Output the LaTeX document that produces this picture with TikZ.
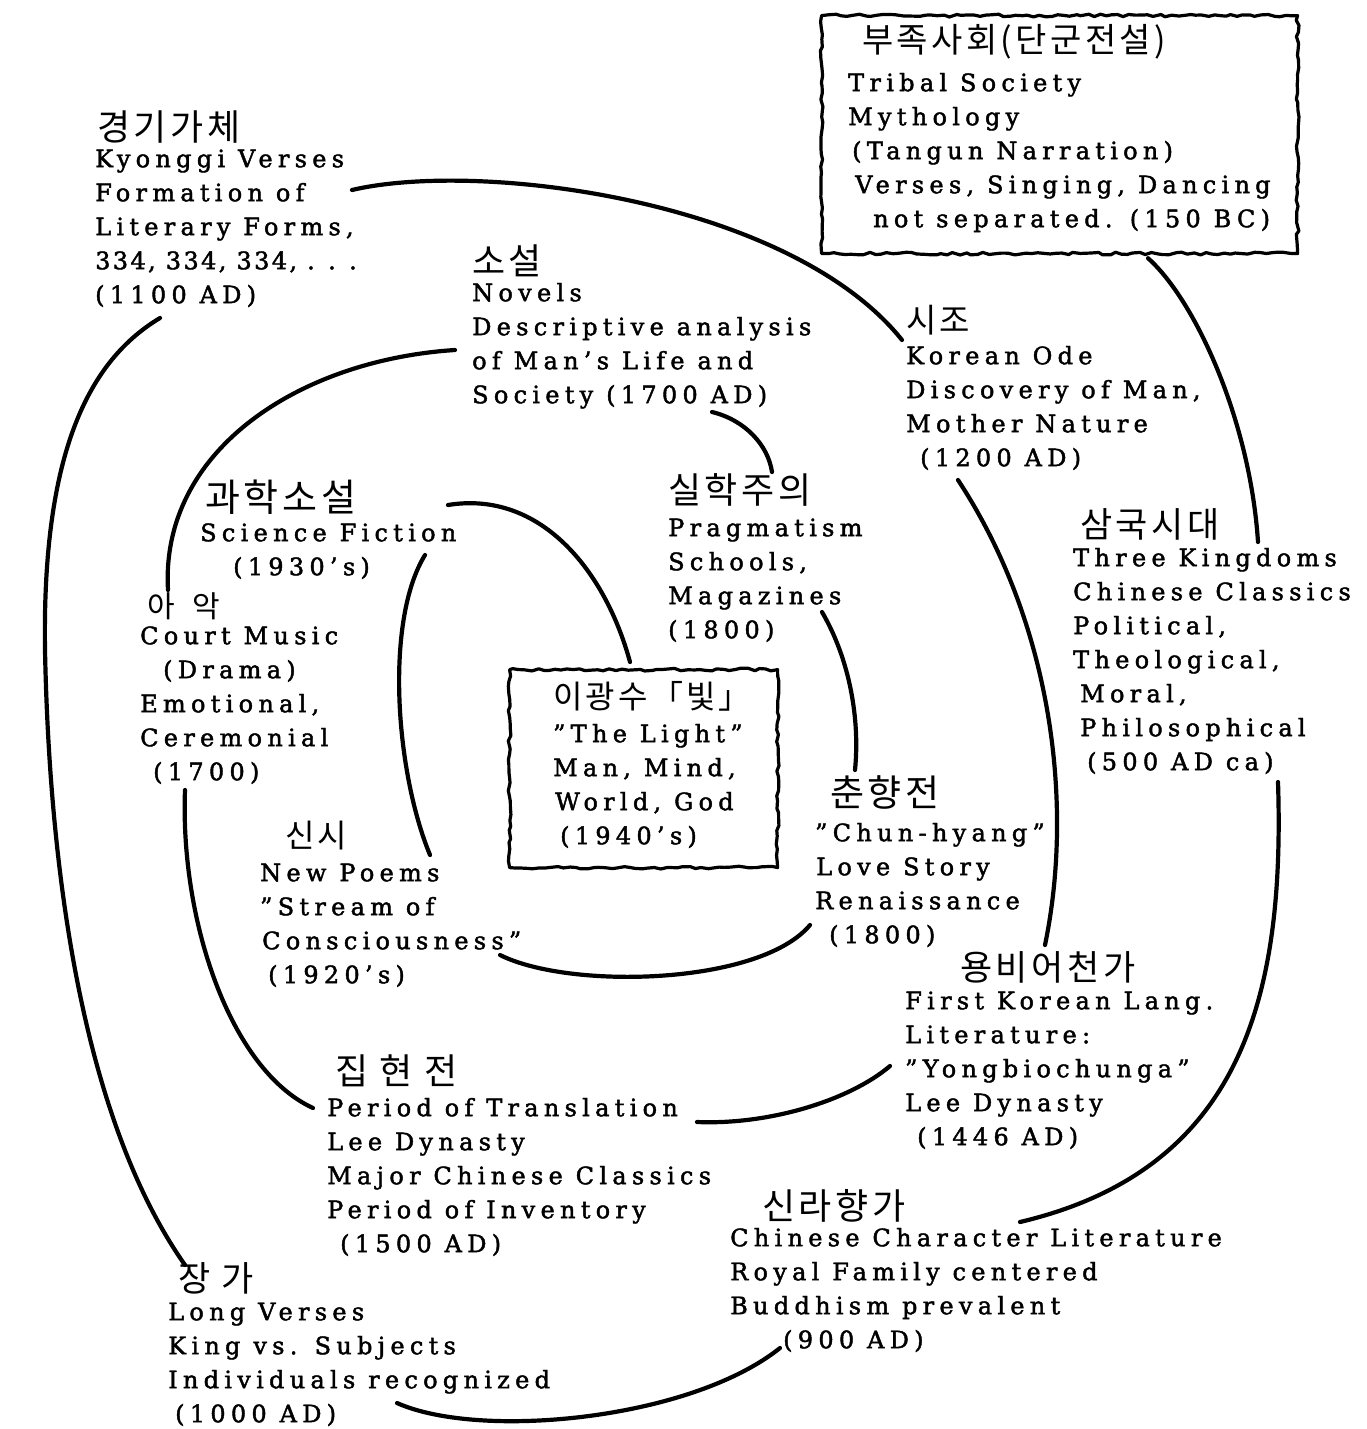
\documentclass[tikz,border=0pt]{standalone}
\usepackage{fontspec}
\setmainfont{DejaVu Serif}[LetterSpace=22, FakeBold=1.8]
\newfontfamily\kr{Noto Sans CJK KR}[LetterSpace=10]
\usetikzlibrary{decorations.pathmorphing}
\newcommand\fstrut{\rule{0pt}{25pt}}
\tikzset{
  txt/.style={anchor=north west, inner sep=0pt, align=left,
    font=\fontsize{24}{34}\selectfont},
  kor/.style={anchor=west, inner sep=0pt, font=\kr\fontsize{#1}{#1}\selectfont},
  link/.style={line width=4.2pt, line cap=round},
  roughbox/.style={draw, line width=3.2pt, line join=round, anchor=north west, inner sep=0pt,
    decorate, decoration={random steps, segment length=6pt, amplitude=1.4pt}}
}
\begin{document}
\begin{tikzpicture}[x=1pt,y=-1pt]
\fill[white] (0,0) rectangle (1367,1429);
\useasboundingbox (0,0) rectangle (1367,1429);

% boxes
\node[roughbox, minimum width=476pt, minimum height=238pt] (tribalbox) at (820,14) {};
\node[roughbox, minimum width=268pt, minimum height=198pt] (lightbox) at (508,668) {};

% Korean headings
\node[kor=34] (tribal-kr) at (862,42) {부족사회(단군전설)};
\node[kor=36] (kyonggi-kr) at (97,127) {경기가체};
\node[kor=36] (novels-kr) at (472,261) {소설};
\node[kor=33] (sijo-kr) at (906,320) {시조};
\node[kor=38] (scifi-kr) at (205,497) {과학소설};
\node[kor=36] (silhak-kr) at (668,490) {실학주의};
\node[kor=35] (kingdoms-kr) at (1080,524) {삼국시대};
\node[kor=30] (aak-kr) at (147,606) {아\hspace{8pt} 악};
\node[kor=32] (light-kr) at (553,696) {이광수「빛」};
\node[kor=37] (chun-kr) at (830,792) {춘향전};
\node[kor=32] (sinsi-kr) at (285,836) {신시};
\node[kor=35] (yongbi-kr) at (960,967) {용비어천가};
\node[kor=36] (jip-kr) at (335,1071) {집 현 전};
\node[kor=36] (silla-kr) at (762,1206) {신라향가};
\node[kor=35] (janga-kr) at (178,1278) {장 가};

% English texts
\node[txt] (tribal) at (848,66) {\fstrut Tribal Society\\Mythology\\\hspace*{4pt}(Tangun Narration)\\\hspace*{7pt}Verses, Singing, Dancing\\\hspace*{25pt}not separated. (150 BC)};
\node[txt] (kyonggi) at (95,142) {\fstrut Kyonggi Verses\\Formation of\\Literary Forms,\\{\addfontfeature{LetterSpace=10}334, 334, 334, . . .}\\(1100 AD)};
\node[txt] (novels) at (472,276) {\fstrut Novels\\Descriptive analysis\\of Man's Life and\\Society (1700 AD)};
\node[txt] (sijo) at (906,339) {\fstrut Korean Ode\\Discovery of Man,\\Mother Nature\\\hspace*{14pt}(1200 AD)};
\node[txt] (scifi) at (200,516) {\fstrut Science Fiction\\\hspace*{33pt}(1930's)};
\node[txt] (silhak) at (668,511) {\fstrut Pragmatism\\Schools,\\Magazines\\(1800)};
\node[txt] (kingdoms) at (1073,541) {\fstrut Three Kingdoms\\Chinese Classics\\Political,\\Theological,\\\hspace*{7pt}Moral,\\\hspace*{7pt}Philosophical\\\hspace*{14pt}(500 AD ca)};
\node[txt] (aak) at (140,619) {\fstrut Court Music\\\hspace*{23pt}(Drama)\\Emotional,\\Ceremonial\\\hspace*{13pt}(1700)};
\node[txt] (light) at (553,717) {\fstrut "The Light"\\Man, Mind,\\\hspace*{2pt}World, God\\\hspace*{7pt}(1940's)};
\node[txt] (chun) at (815,816) {\fstrut "Chun-hyang"\\\hspace*{1pt}Love Story\\Renaissance\\\hspace*{14pt}(1800)};
\node[txt] (sinsi) at (260,856) {\fstrut New Poems\\"Stream of\\\hspace*{2pt}Consciousness"\\\hspace*{8pt}(1920's)};
\node[txt] (yongbi) at (905,984) {\fstrut First Korean Lang.\\Literature:\\"Yongbiochunga"\\Lee Dynasty\\\hspace*{12pt}(1446 AD)};
\node[txt] (jip) at (327,1091) {\fstrut Period of Translation\\Lee Dynasty\\Major Chinese Classics\\Period of Inventory\\\hspace*{13pt}(1500 AD)};
\node[txt] (silla) at (730,1221) {\fstrut Chinese Character Literature\\Royal Family centered\\Buddhism prevalent\\\hspace*{53pt}(900 AD)};
\node[txt] (janga) at (168,1295) {\fstrut Long Verses\\King vs. Subjects\\Individuals recognized\\\hspace*{7pt}(1000 AD)};

% connectors (the spiral)
\draw[link] ([shift={(328,3)}]tribalbox.south west) .. controls (1195,300) and (1250,420) .. ([shift={(185,1)}]kingdoms.north west);
\draw[link] ([shift={(205,241)}]kingdoms.north west) .. controls (1285,1000) and (1240,1170) .. ([shift={(290,1)}]silla.north west);
\draw[link] ([shift={(50,127)}]silla.north west) .. controls (690,1420) and (480,1440) .. ([shift={(229,108)}]janga.north west);
\draw[link] ([shift={(17,-30)}]janga.north west) .. controls (90,1130) and (50,900) .. (45,650) .. controls (42,450) and (90,360) .. ([shift={(65,176)}]kyonggi.north west);
\draw[link] ([shift={(257,48)}]kyonggi.north west) .. controls (480,160) and (790,200) .. ([shift={(-4,1)}]sijo.north west);
\draw[link] ([shift={(52,141)}]sijo.north west) .. controls (1050,620) and (1075,800) .. ([shift={(140,-39)}]yongbi.north west);
\draw[link] ([shift={(-15,82)}]yongbi.north west) .. controls (850,1100) and (770,1125) .. ([shift={(370,31)}]jip.north west);
\draw[link] ([shift={(-14,17)}]jip.north west) .. controls (230,1070) and (180,920) .. ([shift={(45,171)}]aak.north west);
\draw[link] ([shift={(28,-29)}]aak.north west) .. controls (160,450) and (300,360) .. ([shift={(-17,74)}]novels.north west);
\draw[link] ([shift={(240,136)}]novels.north west) .. controls (745,420) and (768,445) .. ([shift={(104,-39)}]silhak.north west);
\draw[link] ([shift={(154,101)}]silhak.north west) .. controls (850,660) and (860,720) .. ([shift={(40,-46)}]chun.north west);
\draw[link] ([shift={(-5,109)}]chun.north west) .. controls (760,985) and (570,990) .. ([shift={(240,99)}]sinsi.north west);
\draw[link] ([shift={(170,-1)}]sinsi.north west) .. controls (395,770) and (385,620) .. ([shift={(225,39)}]scifi.north west);
\draw[link] ([shift={(248,-11)}]scifi.north west) .. controls (540,490) and (605,570) .. ([shift={(122,-6)}]lightbox.north west);
\end{tikzpicture}
\end{document}
